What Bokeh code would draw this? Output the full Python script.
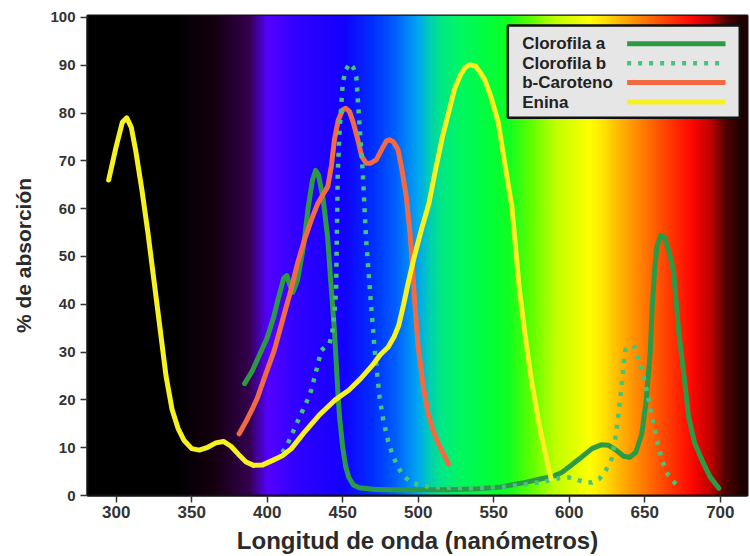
import numpy as np
from bokeh.plotting import figure
from bokeh.models import Range1d, FixedTicker
from bokeh.core.properties import value
from bokeh.embed import file_html
from bokeh.resources import INLINE

# ---------------- data ----------------
x_ticks = [300, 350, 400, 450, 500, 550, 600, 650, 700]
y_ticks = [0, 10, 20, 30, 40, 50, 60, 70, 80, 90, 100]

clorofila_a_nm = [385, 390, 395, 400, 404, 408, 411, 413, 415, 417, 420, 424, 427, 430, 432,
                  434, 437, 440, 442, 444.5, 446.7, 448, 450, 452, 454, 457, 461, 470, 480, 500,
                  520, 540, 555, 570, 580, 590, 595, 600, 608, 615, 621, 626, 631, 636, 640,
                  644, 648, 651, 653.6, 655, 656.5, 658, 660.5, 663, 666, 669, 672.5, 676, 679, 683,
                  688, 693, 699]
clorofila_a_abs = [23.4, 26, 29.5, 33, 37, 42, 45.5, 46, 44, 42.5, 45, 52, 60, 66, 68,
                   67, 62, 54, 45, 34.5, 22, 16, 10, 6, 3.8, 2.2, 1.6, 1.3, 1.2, 1.2,
                   1.2, 1.4, 1.8, 2.7, 3.4, 4.1, 4.8, 6, 8, 9.8, 10.6, 10.5, 9.5, 8.2, 8,
                   9, 12.9, 20, 30, 40, 47, 52, 54.4, 54, 51, 47, 34, 25, 16.4, 11,
                   7.3, 4, 1.5]

clorofila_b_nm = [410, 413.5, 418, 422.4, 426, 429, 432, 435.7, 438, 441.2, 443, 444.5, 445.6, 446.7, 448,
                  450, 452, 454.5, 457, 459, 461, 463.3, 465.5, 468, 471, 474.4, 477, 480, 483, 486.6,
                  490, 495.4, 503, 513, 535, 555, 575, 586, 593, 599.5, 605, 610, 615, 620, 624,
                  628, 630.5, 633, 635, 637, 640, 643.7, 647, 650.3, 652.5, 654.8, 658, 661.4, 665, 671.4]
clorofila_b_abs = [9, 10.8, 14, 17.1, 19.5, 21.9, 25.5, 30.3, 31, 31.7, 34, 38, 43, 67.4, 77,
                   86.2, 89, 90.4, 89.5, 87.6, 78, 67.4, 53.4, 43, 31, 20.5, 15.5, 11.5, 8.5, 5.9,
                   4.2, 2.7, 2, 1.7, 1.5, 1.8, 2.5, 3.1, 3.6, 3.8, 3.3, 2.8, 2.7, 3.5, 5.2,
                   7.6, 12, 18, 24, 30.3, 31.3, 31, 27, 23.4, 20, 16.4, 11.5, 7.3, 4.5, 2]

caroteno_nm = [381.4, 386, 390, 393.6, 398, 404.6, 410, 415.7, 420, 424.6, 429, 433.5, 437, 440.1, 442.5,
               444.5, 447, 450, 452, 454.5, 457, 460, 462.5, 465.5, 468.5, 472.2, 476, 479, 481, 483.5,
               486.6, 489, 492.1, 494.5, 496.5, 498, 500, 503, 506.5, 510, 513, 516.5, 520]
caroteno_abs = [12.9, 15.5, 18, 20.5, 24.5, 30.3, 36.5, 43, 48.5, 53.4, 57.5, 61.1, 63, 64.6, 69,
                74.4, 78.5, 80.7, 81, 80.3, 78, 74.4, 71, 69.5, 69.5, 70.2, 72.5, 74.2, 74.4, 74,
                72.3, 68.5, 62.5, 55, 46.4, 39, 31, 23.5, 17.1, 13.5, 11, 8.8, 6.6]

enina_nm = [295, 300, 304, 307, 310, 313, 317, 321, 325, 329, 333, 337, 341, 345, 350,
            355, 360, 366, 371, 376, 381, 386, 391, 397, 404, 410, 416, 424, 435, 445,
            454, 462, 469, 475, 480, 484, 487, 490, 493, 497, 502, 507, 512, 516, 520,
            524, 528, 531, 534, 538, 541, 544, 548, 553, 557, 562, 565, 567, 571, 575,
            580, 584, 588]
enina_abs = [66, 73, 78, 79, 77, 72, 64, 55, 45, 35, 25, 18, 14, 11.5, 9.8,
             9.5, 10, 11, 11.3, 10.3, 8.6, 7, 6.3, 6.4, 7.4, 8.3, 9.8, 13, 17, 20,
             22, 24.5, 27, 29.5, 31, 33.2, 35.5, 39.5, 44, 49.5, 55.5, 61, 69, 75, 80,
             85, 88, 89.5, 90.1, 89.8, 88.5, 87, 83.5, 78, 70, 60.4, 50, 43, 33, 24,
             15, 9, 3.5]

series_names = ["Clorofila a", "Clorofila b", "b-Caroteno", "Enina"]

# ---------------- styling ----------------
X_MIN, X_MAX = 281, 718
Y_MIN, Y_MAX = 0, 100.4
FONT = "Liberation Sans"
C_A = "#2c9a44"
C_B = "#46c47c"
C_CAR = "#f26a44"
C_EN = "#f6f222"

# visible-spectrum background colour stops
spec_nm = [281, 338, 365, 388, 400, 420, 450, 470, 485, 500, 508, 515, 528, 545, 560, 575,
           591, 614, 624, 631, 648, 665, 681, 694, 704, 714, 718]
spec_hex = ["#000000", "#000000", "#150010", "#35004f", "#5500ff", "#3000ff", "#1400ff", "#0030ff",
            "#0060ff", "#00a8f0", "#00d0b0", "#00e888", "#00f860", "#00ff40", "#10ff20", "#60ff00",
            "#c0ff00", "#ffff00", "#ffe000", "#ffc000", "#ff8000", "#ff4000", "#ff0800", "#c00000",
            "#500000", "#200000", "#1a0000"]

p = figure(width=750, height=556, output_backend="svg", toolbar_location=None,
           x_range=Range1d(X_MIN, X_MAX), y_range=Range1d(Y_MIN, Y_MAX),
           min_border_left=87, min_border_right=3, min_border_top=15, min_border_bottom=61)

# background gradient
grid = np.linspace(X_MIN, X_MAX, 880)
rgb = np.array([[int(h[i:i + 2], 16) for i in (1, 3, 5)] for h in spec_hex], dtype=float)
img = np.empty((1, grid.size), dtype=np.uint32)
view = img.view(dtype=np.uint8).reshape((1, grid.size, 4))
for c in range(3):
    view[0, :, c] = np.interp(grid, spec_nm, rgb[:, c]).astype(np.uint8)
view[0, :, 3] = 255
p.image_rgba(image=[img], x=X_MIN, y=Y_MIN, dw=X_MAX - X_MIN, dh=Y_MAX - Y_MIN)

# curves
p.line(clorofila_a_nm, clorofila_a_abs, line_color=C_A, line_width=5, line_join="round", line_cap="round")
p.line(caroteno_nm, caroteno_abs, line_color=C_CAR, line_width=5, line_join="round", line_cap="round")
p.line(clorofila_b_nm, clorofila_b_abs, line_color=C_B, line_width=4.5, line_dash="4 7", line_join="round")
p.line(enina_nm, enina_abs, line_color=C_EN, line_width=5, line_join="round", line_cap="round")

# legend (drawn as glyphs so that labels sit left of the samples)
LEG_L, LEG_R, LEG_T, LEG_B = 559.3, 712.9, 98.3, 79.0
LEG_TXT_X = 568.8
LEG_LINE_X0, LEG_LINE_X1 = 638.3, 703.4
leg_rows = [94.5, 90.4, 86.4, 82.3]
p.quad(left=[LEG_L], right=[LEG_R], top=[LEG_T], bottom=[LEG_B],
       fill_color="#e6e6e6", line_color="#111111", line_width=2.5)
styles = [(C_A, 5, "solid"), (C_B, 4.5, "4 7"), (C_CAR, 5, "solid"), (C_EN, 5, "solid")]
for yy, (col, lw, dash) in zip(leg_rows, styles):
    p.line([LEG_LINE_X0, LEG_LINE_X1], [yy, yy], line_color=col, line_width=lw, line_dash=dash)
p.text(x=[LEG_TXT_X] * 4, y=leg_rows, text=series_names, text_font=value(FONT),
       text_font_style="bold", text_font_size="17px", text_baseline="middle",
       text_color="#222222")

# axes
p.grid.visible = False
p.outline_line_color = "#111111"
p.outline_line_width = 2
p.xaxis.ticker = FixedTicker(ticks=x_ticks)
p.yaxis.ticker = FixedTicker(ticks=y_ticks)
p.xaxis.axis_label = "Longitud de onda (nanómetros)"
p.yaxis.axis_label = "% de absorción"
for ax in (p.xaxis, p.yaxis):
    ax.axis_line_color = "#111111"
    ax.axis_line_width = 2
    ax.major_tick_line_color = "#333333"
    ax.major_tick_line_width = 1.5
    ax.major_tick_out = 7
    ax.major_tick_in = 0
    ax.minor_tick_line_color = None
    ax.major_label_text_font = FONT
    ax.major_label_text_font_style = "bold"
    ax.major_label_text_color = "#333333"
    ax.axis_label_text_font = FONT
    ax.axis_label_text_font_style = "bold"
    ax.axis_label_text_color = "#2a2a2a"
p.xaxis.major_label_text_font_size = "17px"
p.yaxis.major_label_text_font_size = "15px"
p.xaxis.axis_label_text_font_size = "24px"
p.yaxis.axis_label_text_font_size = "21px"
p.xaxis.major_label_standoff = 3
p.yaxis.major_label_standoff = 5
p.xaxis.axis_label_standoff = 6
p.yaxis.axis_label_standoff = 12

open("out.html", "w").write(file_html(p, INLINE))
